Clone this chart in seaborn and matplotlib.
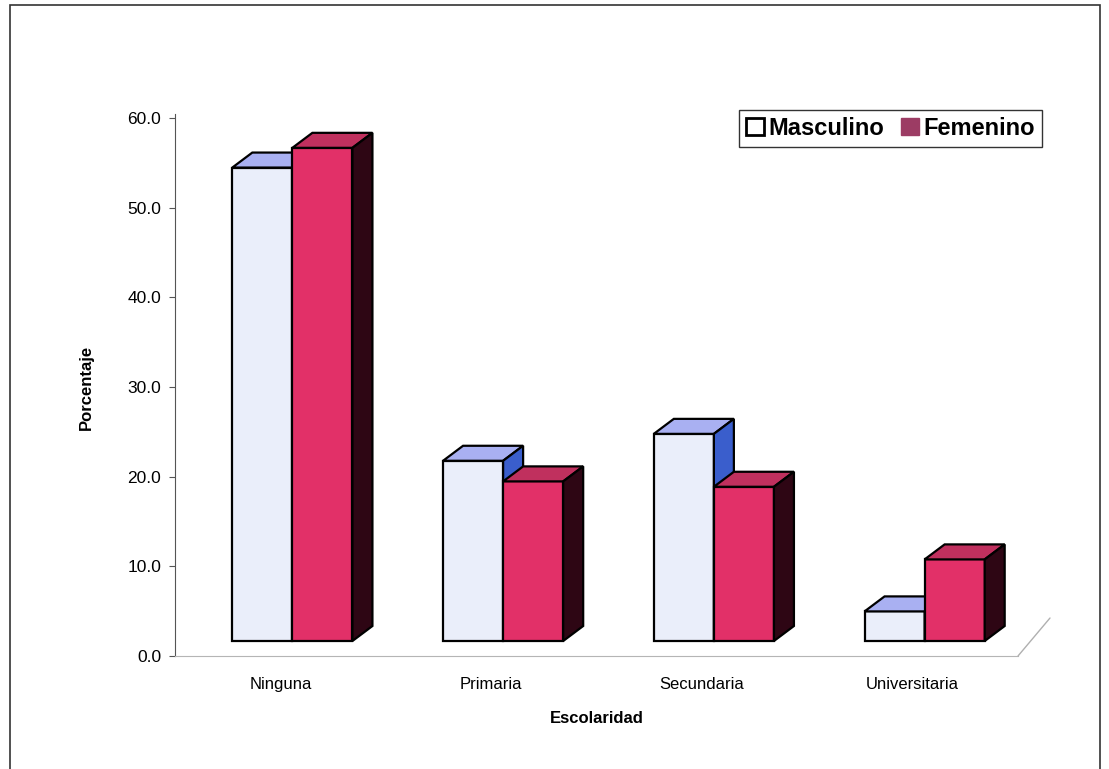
import matplotlib
matplotlib.use("Agg")
import matplotlib.pyplot as plt
import matplotlib.transforms as mtransforms
from matplotlib.patches import Polygon, Rectangle, Patch
import seaborn as sns
import pandas as pd

categories = ["Ninguna", "Primaria", "Secundaria", "Universitaria"]
masculino = [52.8, 20.1, 23.1, 3.3]
femenino = [55.0, 17.8, 17.2, 9.1]
series = ["Masculino", "Femenino"]

df = pd.DataFrame({
    "Escolaridad": categories * 2,
    "Porcentaje": masculino + femenino,
    "Sexo": ["Masculino"] * 4 + ["Femenino"] * 4,
})

# colores de las caras (frente, arriba, lado)
front = {"Masculino": "#eaeefa", "Femenino": "#e23068"}
top = {"Masculino": "#a9b0f2", "Femenino": "#c0305e"}
side = {"Masculino": "#3a5ecc", "Femenino": "#2e0614"}

sns.set_style("white")
plt.rcParams["font.family"] = ["Liberation Sans", "DejaVu Sans"]
plt.rcParams["text.color"] = "black"
plt.rcParams["axes.labelcolor"] = "black"
plt.rcParams["xtick.color"] = "black"
plt.rcParams["ytick.color"] = "black"

fig = plt.figure(figsize=(11.09, 7.69), dpi=100)
ax = fig.add_axes([175 / 1109, 113 / 769, 843 / 1109, 538 / 769])

sns.barplot(data=df, x="Escolaridad", y="Porcentaje", hue="Sexo",
            hue_order=series, palette=front, saturation=1, width=0.57,
            edgecolor="black", linewidth=1.6, legend=False, ax=ax)

ax.set_xlim(-0.5, 3.5)
ax.set_ylim(0, 60)

# desplazamiento de las barras hacia el fondo (pseudo 3D)
offset = mtransforms.ScaledTranslation(12 / 100, 15 / 100, fig.dpi_scale_trans)
trans = ax.transData + offset
px_x = 843 / 4.0
px_y = 538 / 60.0
ddx = 20 / px_x
ddy = 15 / px_y

for p in list(ax.patches):
    x0 = p.get_x()
    w = p.get_width()
    h = p.get_height()
    x1 = x0 + w
    idx = int(round(x0 + w / 2))
    serie = "Masculino" if (x0 + w / 2) < idx else "Femenino"
    z = 2 if serie == "Masculino" else 3
    p.set_transform(trans)
    p.set_zorder(z)
    p.set_clip_on(False)
    top_face = Polygon([(x0, h), (x1, h), (x1 + ddx, h + ddy), (x0 + ddx, h + ddy)],
                       closed=True, facecolor=top[serie], edgecolor="black",
                       linewidth=1.6, transform=trans, zorder=z, clip_on=False)
    side_face = Polygon([(x1, 0), (x1 + ddx, ddy), (x1 + ddx, h + ddy), (x1, h)],
                        closed=True, facecolor=side[serie], edgecolor="black",
                        linewidth=1.6, transform=trans, zorder=z, clip_on=False)
    ax.add_patch(top_face)
    ax.add_patch(side_face)

# piso
ax.plot([3.5, 3.5 + 32 / px_x], [0, 38 / px_y], color="#b0b0b0", linewidth=1,
        clip_on=False)

for s in ["top", "right"]:
    ax.spines[s].set_visible(False)
ax.spines["left"].set_color("#555555")
ax.spines["bottom"].set_color("#b5b5b5")
ax.spines["left"].set_bounds(0, 60.5)

ax.set_yticks(range(0, 61, 10))
ax.set_yticklabels([f"{v:.1f}" for v in range(0, 61, 10)], fontsize=12.5)
ax.set_xticks(range(4))
ax.set_xticklabels(categories, fontsize=12)
ax.set_xticks([-0.5, 0.5, 1.5, 2.5, 3.5], minor=True)
ax.tick_params(axis="x", which="major", length=0, pad=15)
ax.tick_params(axis="x", which="minor", length=5, color="#b5b5b5", direction="out")
ax.tick_params(axis="y", length=4, color="#555555", direction="out", left=True, pad=6)

ax.set_xlabel("Escolaridad", fontsize=12, fontweight="bold", labelpad=14)
ax.set_ylabel("Porcentaje", fontsize=12, fontweight="bold", labelpad=24)

handles = [Patch(facecolor="white", edgecolor="black", linewidth=2),
           Patch(facecolor="#9c3c64", edgecolor="#9c3c64")]
leg = fig.legend(handles, series, loc="upper right", ncol=2,
                 bbox_to_anchor=(1042 / 1109, 1 - 110 / 769),
                 bbox_transform=fig.transFigure,
                 prop={"size": 17, "weight": "bold"},
                 frameon=True, fancybox=False, edgecolor="black",
                 handlelength=0.75, handleheight=0.75, handletextpad=0.2,
                 columnspacing=0.7, borderpad=0.3, borderaxespad=0)
leg.get_frame().set_linewidth(1)

# borde exterior del grafico
fig.patches.append(Rectangle((10 / 1109, -0.02), 1090 / 1109, 1.02 - 5 / 769,
                             transform=fig.transFigure, fill=False,
                             edgecolor="#333333", linewidth=1.2))

fig.savefig("out.png", dpi=100)
plt.close(fig)
